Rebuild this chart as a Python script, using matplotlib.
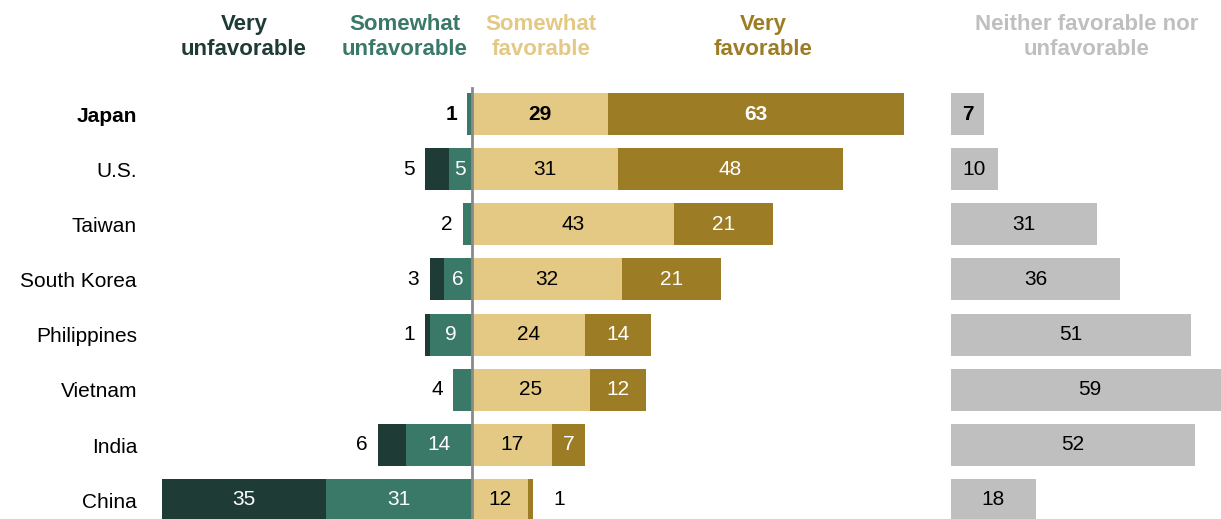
import numpy as np
import matplotlib.pyplot as plt

# data
countries = ["Japan", "U.S.", "Taiwan", "South Korea", "Philippines", "Vietnam", "India", "China"]
very_unfav = [0, 5, 0, 3, 1, 0, 6, 35]
somewhat_unfav = [1, 5, 2, 6, 9, 4, 14, 31]
somewhat_fav = [29, 31, 43, 32, 24, 25, 17, 12]
very_fav = [63, 48, 21, 21, 14, 12, 7, 1]
neither = [7, 10, 31, 36, 51, 59, 52, 18]

headers = ["Very\nunfavorable", "Somewhat\nunfavorable", "Somewhat\nfavorable", "Very\nfavorable",
           "Neither favorable nor\nunfavorable"]

c_vu = "#1e3b35"
c_su = "#3a7868"
c_sf = "#e3c983"
c_vf = "#9c7c25"
c_ne = "#bfbfbf"

W, H = 1221, 519
PX = 4.7           # pixels per percentage point
X0 = 472           # center line, pixels
ROW0, ROWSTEP = 114, 55.14

head_font = ["Liberation Sans", "DejaVu Sans"]
lab_font = ["Liberation Sans", "DejaVu Sans"]

fig = plt.figure(figsize=(W / 100, H / 100), dpi=100)
ax = fig.add_axes([0, 0, 1, 1])
ax.set_xlim(-X0 / PX, (W - X0) / PX)
ax.set_ylim((H - ROW0) / ROWSTEP, -ROW0 / ROWSTEP)
ax.axis("off")

axn = fig.add_axes([951 / W, 0, (W - 951) / W, 1])
axn.set_xlim(0, (W - 951) / PX)
axn.set_ylim((H - ROW0) / ROWSTEP, -ROW0 / ROWSTEP)
axn.axis("off")

y = np.arange(len(countries))
vu = np.array(very_unfav)
su = np.array(somewhat_unfav)
sf = np.array(somewhat_fav)
vf = np.array(very_fav)
ne = np.array(neither)
h = 0.76

ax.barh(y, -su, height=h, color=c_su, linewidth=0)
ax.barh(y, -vu, left=-su, height=h, color=c_vu, linewidth=0)
ax.barh(y, sf, height=h, color=c_sf, linewidth=0)
ax.barh(y, vf, left=sf, height=h, color=c_vf, linewidth=0)
axn.barh(y, ne, height=h, color=c_ne, linewidth=0)

ax.plot([0, 0], [-0.47, 7.4], color="#8a8a8a", lw=2, zorder=5, clip_on=False)

fs = 15
for i, name in enumerate(countries):
    wt = "bold" if i == 0 else "normal"
    ax.text(-X0 / PX + 137 / PX, i + 0.04, name, ha="right", va="center", fontsize=fs,
            fontweight=wt, family=lab_font)
    kw = dict(va="center", fontsize=fs, fontweight=wt, family=lab_font)
    # unfavorable side
    if vu[i] >= 10:
        ax.text(-su[i] - vu[i] / 2, i, str(vu[i]), ha="center", color="white", **kw)
    elif vu[i] > 0:
        ax.text(-su[i] - vu[i] - 2.2, i, str(vu[i]), ha="right", color="black", **kw)
    if su[i] >= 5:
        ax.text(-su[i] / 2, i, str(su[i]), ha="center", color="white", **kw)
    else:
        ax.text(-su[i] - 2.2, i, str(su[i]), ha="right", color="black", **kw)
    # favorable side
    ax.text(sf[i] / 2, i, str(sf[i]), ha="center", color="black", **kw)
    if vf[i] >= 5:
        ax.text(sf[i] + vf[i] / 2, i, str(vf[i]), ha="center", color="white", **kw)
    else:
        ax.text(sf[i] + vf[i] + 5.5, i, str(vf[i]), ha="center", color="black", **kw)
    axn.text(ne[i] / 2, i, str(ne[i]), ha="center", color="black", clip_on=False, **kw)

hx = [244, 405, 541, 763, 1087]
hc = [c_vu, c_su, c_sf, c_vf, c_ne]
for t, xp, c in zip(headers, hx, hc):
    fig.text(xp / W, 1 - 37 / H, t, ha="center", va="center", color=c, fontsize=16,
             fontweight="bold", family=head_font, linespacing=1.2)

fig.savefig("out.png", dpi=100)
